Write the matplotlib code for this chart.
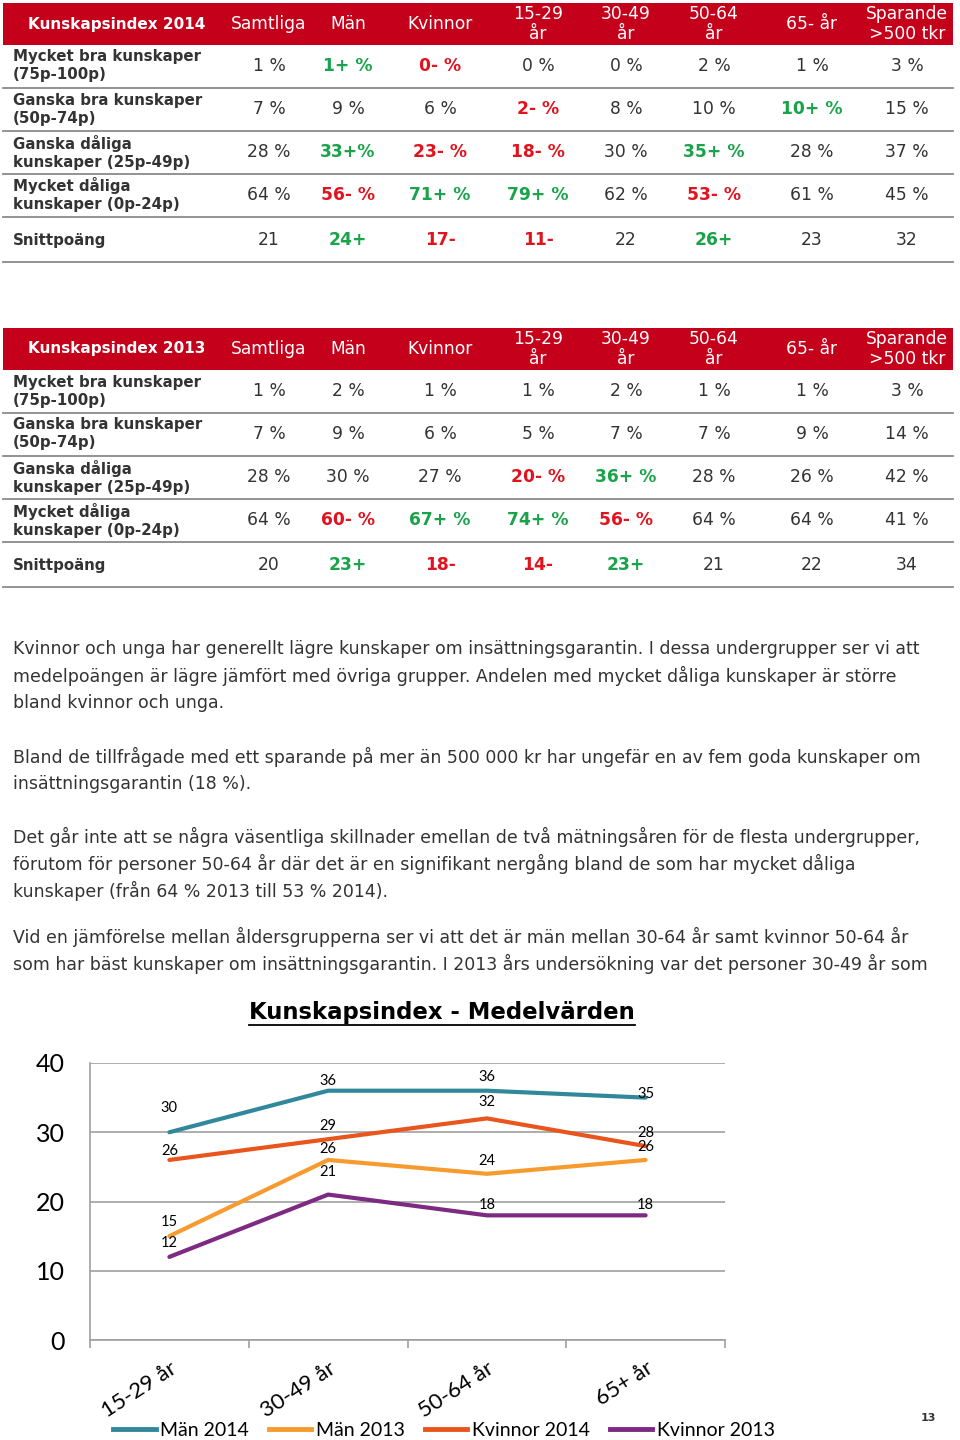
import matplotlib
matplotlib.use("Agg")
import matplotlib.pyplot as plt
from matplotlib.lines import Line2D
from matplotlib.patches import Rectangle

plt.rcParams["font.family"] = ["DejaVu Sans"]

# --- data ---
col_headers = ["Samtliga", "Män", "Kvinnor", "15-29\når", "30-49\når",
               "50-64\når", "65- år", "Sparande\n>500 tkr"]
row_labels = ["Mycket bra kunskaper\n(75p-100p)", "Ganska bra kunskaper\n(50p-74p)",
              "Ganska dåliga\nkunskaper (25p-49p)", "Mycket dåliga\nkunskaper (0p-24p)",
              "Snittpoäng"]

mycket_bra_2014 = ["1 %", "1+ %", "0- %", "0 %", "0 %", "2 %", "1 %", "3 %"]
ganska_bra_2014 = ["7 %", "9 %", "6 %", "2- %", "8 %", "10 %", "10+ %", "15 %"]
ganska_dal_2014 = ["28 %", "33+%", "23- %", "18- %", "30 %", "35+ %", "28 %", "37 %"]
mycket_dal_2014 = ["64 %", "56- %", "71+ %", "79+ %", "62 %", "53- %", "61 %", "45 %"]
snitt_2014 = ["21", "24+", "17-", "11-", "22", "26+", "23", "32"]

mycket_bra_2013 = ["1 %", "2 %", "1 %", "1 %", "2 %", "1 %", "1 %", "3 %"]
ganska_bra_2013 = ["7 %", "9 %", "6 %", "5 %", "7 %", "7 %", "9 %", "14 %"]
ganska_dal_2013 = ["28 %", "30 %", "27 %", "20- %", "36+ %", "28 %", "26 %", "42 %"]
mycket_dal_2013 = ["64 %", "60- %", "67+ %", "74+ %", "56- %", "64 %", "64 %", "41 %"]
snitt_2013 = ["20", "23+", "18-", "14-", "23+", "21", "22", "34"]

paragraphs = [
    ["Kvinnor och unga har generellt lägre kunskaper om insättningsgarantin. I dessa undergrupper ser vi att",
     "medelpoängen är lägre jämfört med övriga grupper. Andelen med mycket dåliga kunskaper är större",
     "bland kvinnor och unga."],
    ["Bland de tillfrågade med ett sparande på mer än 500 000 kr har ungefär en av fem goda kunskaper om",
     "insättningsgarantin (18 %)."],
    ["Det går inte att se några väsentliga skillnader emellan de två mätningsåren för de flesta undergrupper,",
     "förutom för personer 50-64 år där det är en signifikant nergång bland de som har mycket dåliga",
     "kunskaper (från 64 % 2013 till 53 % 2014)."],
    ["Vid en jämförelse mellan åldersgrupperna ser vi att det är män mellan 30-64 år samt kvinnor 50-64 år",
     "som har bäst kunskaper om insättningsgarantin. I 2013 års undersökning var det personer 30-49 år som"],
]

age_groups = ["15-29 år", "30-49 år", "50-64 år", "65+ år"]
man_2014 = [30, 36, 36, 35]
man_2013 = [15, 26, 24, 26]
kvinnor_2014 = [26, 29, 32, 28]
kvinnor_2013 = [12, 21, 18, 18]

# --- helpers (pixel -> figure fraction) ---
W, H = 960, 1440
def fx(px):
    return px / W
def fy(py):
    return 1 - py / H

RED_HDR = "#C4001A"
GREEN = "#1AA34A"
RED = "#E0141E"
TXT = "#333333"

fig = plt.figure(figsize=(9.6, 14.4), dpi=100)
fig.patch.set_facecolor("white")

col_x = [269, 348, 440, 538, 626, 714, 812, 907]


def draw_table(top, title, rows):
    # red header band
    fig.patches.append(Rectangle((fx(3), fy(top + 42)), fx(950), 42 / H,
                                 transform=fig.transFigure, facecolor=RED_HDR,
                                 edgecolor="none"))
    fig.text(fx(28), fy(top + 21), title, color="white", fontsize=11,
             fontweight="bold", va="center", ha="left")
    for x, h in zip(col_x, col_headers):
        fig.text(fx(x), fy(top + 21), h, color="white", fontsize=12.3,
                 va="center", ha="center", linespacing=1.2)
    row_y = [top + 63, top + 106, top + 149, top + 192, top + 237]
    line_y = [top + 85, top + 128, top + 171, top + 214, top + 259]
    for ly in line_y:
        fig.lines.append(Line2D([fx(3), fx(953)], [fy(ly), fy(ly)],
                                transform=fig.transFigure, color="#8a8a8a", lw=1.3))
    for ry, lab, vals in zip(row_y, row_labels, rows):
        fig.text(fx(13), fy(ry), lab, color=TXT, fontsize=10.8, fontweight="bold",
                 va="center", ha="left", linespacing=1.25)
        for x, v in zip(col_x, vals):
            if "+" in v:
                c, w = GREEN, "bold"
            elif "-" in v:
                c, w = RED, "bold"
            else:
                c, w = TXT, "normal"
            fig.text(fx(x), fy(ry), v, color=c, fontsize=12.3, fontweight=w,
                     va="center", ha="center")


draw_table(3, "Kunskapsindex 2014",
           [mycket_bra_2014, ganska_bra_2014, ganska_dal_2014, mycket_dal_2014, snitt_2014])
draw_table(328, "Kunskapsindex 2013",
           [mycket_bra_2013, ganska_bra_2013, ganska_dal_2013, mycket_dal_2013, snitt_2013])

# --- paragraphs ---
para_y = [649, 757, 837, 937]
for y0, lines in zip(para_y, paragraphs):
    for i, line in enumerate(lines):
        fig.text(fx(13), fy(y0 + i * 27), line, color=TXT, fontsize=12.5,
                 va="center", ha="left")

# --- chart ---
ax = fig.add_axes([fx(90), fy(1340), fx(725 - 90), (1340 - 1063) / H])
series = [
    ("Män 2014", man_2014, "#31889B"),
    ("Män 2013", man_2013, "#F79B2E"),
    ("Kvinnor 2014", kvinnor_2014, "#E8561E"),
    ("Kvinnor 2013", kvinnor_2013, "#7D2A82"),
]
# label offsets above the point (pixels)
label_dy = {
    "Män 2014": [24, 10, 14, 4],
    "Män 2013": [14, 11, 13, 13],
    "Kvinnor 2014": [9, 13, 16, 13],
    "Kvinnor 2013": [14, 23, 10, 10],
}
x = list(range(len(age_groups)))
for name, vals, col in series:
    ax.plot(x, vals, color=col, lw=3, label=name, solid_capstyle="round")
    for xi, v, dy in zip(x, vals, label_dy[name]):
        ax.annotate(str(v), (xi, v), xytext=(0, dy * 0.72), textcoords="offset points",
                    ha="center", va="center", fontsize=10.5, family="Lato", color="black")

ax.set_xlim(-0.5, 3.5)
ax.set_ylim(0, 40)
ax.set_yticks([0, 10, 20, 30, 40])
ax.grid(axis="y", color="#a0a0a0", lw=1.2)
ax.set_axisbelow(True)
for s in ["top", "right"]:
    ax.spines[s].set_visible(False)
for s in ["left", "bottom"]:
    ax.spines[s].set_color("#a0a0a0")
    ax.spines[s].set_linewidth(1.2)
ax.tick_params(axis="y", length=0, pad=18, labelsize=18)
for t in ax.get_yticklabels():
    t.set_family("Lato")
ax.set_xticks(x)
ax.set_xticklabels(age_groups, rotation=33, ha="right", rotation_mode="anchor",
                   fontsize=16, family="Lato")
ax.tick_params(axis="x", which="major", length=0, pad=13)
for t in ax.get_xticklabels():
    t.set_x(t.get_position()[0])
ax.set_xticks([-0.5, 0.5, 1.5, 2.5, 3.5], minor=True)
ax.tick_params(axis="x", which="minor", length=6, color="#a0a0a0", width=1.2)

title = fig.text(fx(442), fy(1013), "Kunskapsindex - Medelvärden", fontsize=16.4,
                 fontweight="bold", ha="center", va="center", color="black")

handles = [Line2D([0], [0], color=c, lw=3.5) for _, _, c in series]
fig.legend(handles, [n for n, _, _ in series], loc="center",
           bbox_to_anchor=(fx(444), fy(1430)), ncol=4, frameon=False,
           handlelength=2.2, handletextpad=0.25, columnspacing=1.0,
           prop={"family": "Lato", "size": 14})

fig.text(fx(928), fy(1418), "13", fontsize=8, fontweight="bold", color=TXT,
         ha="center", va="center")

# underline for the chart title
fig.canvas.draw()
bb = title.get_window_extent().transformed(fig.transFigure.inverted())
fig.lines.append(Line2D([bb.x0, bb.x1], [bb.y0, bb.y0], transform=fig.transFigure,
                        color="black", lw=1.3))

fig.savefig("out.png", dpi=100)
